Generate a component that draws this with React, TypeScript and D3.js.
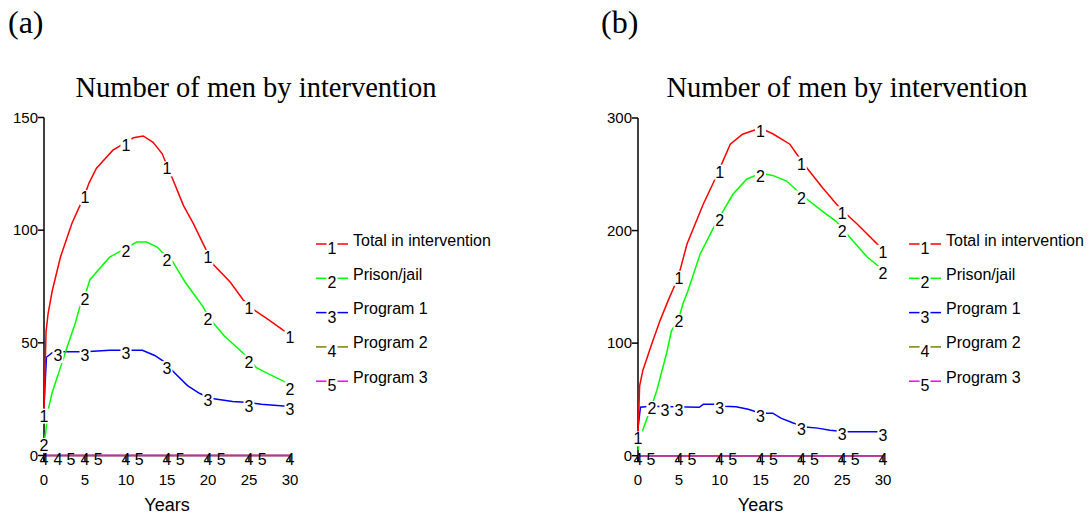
import React from "react";
import * as d3 from "d3";

// ---------- DATA ----------
const seriesNames = ["Total in intervention", "Prison/jail", "Program 1", "Program 2", "Program 3"];
const seriesColors = ["#ff0000", "#00ff00", "#0000ff", "#808000", "#ff00ff"];
const xTicks = [0, 5, 10, 15, 20, 25, 30];

// Panel (a)
const aTicksY = [0, 50, 100, 150];
const aTotalT = [0, 0.25, 0.5, 1, 2, 3.4, 5, 5.5, 6.4, 8.4, 10, 10.9, 12.1, 13.3, 14.4, 15.6, 17, 18.2, 19.4, 20.6, 22.7, 24.3, 25.7, 27.5, 29.2, 30];
const aTotalV = [19, 55, 63, 73, 88, 103, 116, 121, 127.5, 135.5, 139, 141, 141.8, 139, 134, 123.5, 111, 103, 94, 85, 77, 69, 64.4, 60, 55.5, 54];
const aPrisonT = [0, 0.2, 0.5, 1, 2, 3, 3.8, 4.6, 5, 5.6, 8, 10, 11.3, 12.5, 13.8, 15, 15.7, 17.2, 18.8, 19.4, 20, 20.6, 22, 23.9, 25, 25.9, 27.5, 29.2, 30];
const aPrisonV = [6, 10, 20, 28, 39, 50, 58.6, 69, 71, 78, 88, 92, 94.7, 94.7, 92.5, 88, 86, 77, 69, 66, 62, 59, 53, 46.7, 43, 39, 36, 33, 31];
const aProg1T = [0, 0.3, 1, 2, 5, 8, 12, 13.5, 14.5, 16, 17.5, 19, 20.5, 23, 25, 26.5, 30];
const aProg1V = [22, 43.6, 45.6, 46, 46, 46.7, 46.7, 44.4, 42, 36.4, 31, 27.5, 25.3, 24, 23.5, 22.7, 21.8];
const aProg2T = [0, 30];
const aProg2V = [0, 0];
const aProg3T = [0, 30];
const aProg3V = [0, 0];
const aMarks1 = [0, 5, 10, 15, 20, 25, 30];
const aMarks2 = [0, 5, 10, 15, 20, 25, 30];
const aMarks3 = [1.7, 5, 10, 15, 20, 25, 30];
const aMarks4 = [0, 1.7, 5, 10, 15, 20, 25, 30];
const aMarks5 = [3.3, 6.6, 11.6, 16.6, 21.6, 26.6];

// Panel (b)
const bTicksY = [0, 100, 200, 300];
const bTotalT = [0, 0.2, 0.6, 1.7, 2.7, 3.7, 4.9, 6, 8, 9.2, 10, 11.3, 12.8, 15, 16.5, 18.6, 20.2, 22.6, 24.7, 26.8, 29.3, 30];
const bTotalV = [18, 62, 76, 99.7, 120, 138, 158, 188, 223.6, 242, 255, 276.7, 285.6, 291, 286, 276.7, 260, 238, 220, 206, 188, 184];
const bPrisonT = [0, 0.6, 1.7, 2.3, 3.5, 4.1, 5, 5.5, 6.1, 7.6, 9.2, 10.4, 11.6, 13.3, 15, 16.5, 18.2, 20.2, 22.6, 24.3, 26.3, 28, 30];
const bPrisonV = [5, 23, 45, 58, 91, 111, 122, 135, 146, 179, 202, 217, 232, 245.6, 251, 249, 244, 230.7, 217, 208, 191, 177, 165];
const bProg1T = [0, 0.3, 1.5, 7.5, 8, 9.5, 10.5, 12, 13.5, 15, 16.5, 17.5, 19, 20.5, 22, 23.5, 25.5, 30];
const bProg1V = [25, 43, 44, 43, 45.6, 45.6, 44, 43.4, 41.3, 37.8, 37.8, 33.4, 29, 25.4, 24.5, 22.7, 21.3, 21.3];
const bProg2T = [0, 30];
const bProg2V = [0, 0];
const bProg3T = [0, 30];
const bProg3V = [0, 0];
const bMarks1 = [0, 5, 10, 15, 20, 25, 30];
const bMarks2 = [1.7, 5, 10, 15, 20, 25, 30];
const bMarks3 = [3.3, 5, 10, 15, 20, 25, 30];
const bMarks4 = [0, 5, 10, 15, 20, 25, 30];
const bMarks5 = [1.6, 6.6, 11.6, 16.6, 21.6, 26.6];

// ---------- RENDER ----------
type Series = { t: number[]; v: number[]; marks: number[] };

const SANS = "'Liberation Sans', Arial, sans-serif";
const SERIF = "'Liberation Serif', 'Times New Roman', serif";

function Panel(props: {
  label: string;
  labelX: number;
  x0: number;
  x1: number;
  yTop: number;
  yBottom: number;
  yMax: number;
  yTicks: number[];
  series: Series[];
  legendX: number;
  titleX: number;
}) {
  const { x0, x1, yTop, yBottom, yMax, yTicks, series, legendX } = props;
  const x = d3.scaleLinear().domain([0, 30]).range([x0, x1]);
  const y = d3.scaleLinear().domain([0, yMax]).range([yBottom, yTop]);
  const line = d3
    .line<[number, number]>()
    .x((d) => x(d[0]))
    .y((d) => y(d[1]));

  const drawOrder = [3, 4, 2, 1, 0];
  const legendY0 = 244;
  const legendStep = 34.3;

  return (
    <g>
      <text x={props.labelX} y={33} fontFamily={SERIF} fontSize={32} fill="#000">
        {props.label}
      </text>
      <text x={props.titleX} y={97} fontFamily={SERIF} fontSize={28.5} textAnchor="middle" fill="#000">
        Number of men by intervention
      </text>

      {/* axes */}
      <line x1={x0} x2={x0} y1={y(yMax)} y2={yBottom + 6} stroke="#000" strokeWidth={1.5} />
      <line x1={x0} x2={x1} y1={yBottom} y2={yBottom} stroke="#000" strokeWidth={1.5} />
      {yTicks.map((t) => (
        <g key={"yt" + t}>
          <line x1={x0 - 6} x2={x0} y1={y(t)} y2={y(t)} stroke="#000" strokeWidth={1.5} />
          <text x={x0 - 6} y={y(t) + 5} textAnchor="end" fontFamily={SANS} fontSize={15} fill="#000">
            {t}
          </text>
        </g>
      ))}
      {xTicks.map((t) => (
        <g key={"xt" + t}>
          <line x1={x(t)} x2={x(t)} y1={yBottom} y2={yBottom + 6} stroke="#000" strokeWidth={1.5} />
          <text x={x(t)} y={485} textAnchor="middle" fontFamily={SANS} fontSize={15} fill="#000">
            {t}
          </text>
        </g>
      ))}
      <text x={(x0 + x1) / 2} y={511} textAnchor="middle" fontFamily={SANS} fontSize={18} fill="#000">
        Years
      </text>

      {/* series lines */}
      {drawOrder.map((i) => {
        const s = series[i];
        const pts = s.t.map((t, k) => [t, s.v[k]] as [number, number]);
        return (
          <path key={"s" + i} d={line(pts) || ""} fill="none" stroke={seriesColors[i]} strokeWidth={1.5} />
        );
      })}

      {/* markers */}
      {series.map((s, i) => {
        const interp = d3.scaleLinear().domain(s.t).range(s.v);
        return s.marks.map((m, k) => {
          const px = x(m);
          const py = y(interp(m));
          const bg = i < 3;
          return (
            <g key={"m" + i + "_" + k}>
              {bg && <rect x={px - 5.5} y={py - 4} width={11} height={15} fill="#fff" />}
              <text x={px} y={py + 9} textAnchor="middle" fontFamily={SANS} fontSize={16} fill="#000">
                {i + 1}
              </text>
            </g>
          );
        });
      })}

      {/* legend */}
      {seriesNames.map((name, i) => {
        const ly = legendY0 + i * legendStep;
        return (
          <g key={"lg" + i}>
            <line x1={legendX} x2={legendX + 32} y1={ly} y2={ly} stroke={seriesColors[i]} strokeWidth={1.5} />
            <rect x={legendX + 10.5} y={ly - 3} width={11} height={14} fill="#fff" />
            <text x={legendX + 16} y={ly + 10} textAnchor="middle" fontFamily={SANS} fontSize={16} fill="#000">
              {i + 1}
            </text>
            <text x={legendX + 37} y={ly + 1.5} fontFamily={SANS} fontSize={16} fill="#000">
              {name}
            </text>
          </g>
        );
      })}
    </g>
  );
}

export default function App() {
  const aSeries: Series[] = [
    { t: aTotalT, v: aTotalV, marks: aMarks1 },
    { t: aPrisonT, v: aPrisonV, marks: aMarks2 },
    { t: aProg1T, v: aProg1V, marks: aMarks3 },
    { t: aProg2T, v: aProg2V, marks: aMarks4 },
    { t: aProg3T, v: aProg3V, marks: aMarks5 },
  ];
  const bSeries: Series[] = [
    { t: bTotalT, v: bTotalV, marks: bMarks1 },
    { t: bPrisonT, v: bPrisonV, marks: bMarks2 },
    { t: bProg1T, v: bProg1V, marks: bMarks3 },
    { t: bProg2T, v: bProg2V, marks: bMarks4 },
    { t: bProg3T, v: bProg3V, marks: bMarks5 },
  ];
  return (
    <svg
      width={1092}
      height={519}
      style={{ position: "absolute", left: 0, top: 0, background: "#fff" }}
    >
      <rect width={1092} height={519} fill="#fff" />
      <Panel
        label="(a)"
        labelX={8}
        x0={44}
        x1={290}
        yTop={117.5}
        yBottom={455.5}
        yMax={150}
        yTicks={aTicksY}
        series={aSeries}
        legendX={316}
        titleX={256}
      />
      <Panel
        label="(b)"
        labelX={601}
        x0={638}
        x1={883}
        yTop={118}
        yBottom={455.7}
        yMax={300}
        yTicks={bTicksY}
        series={bSeries}
        legendX={909}
        titleX={847}
      />
    </svg>
  );
}
